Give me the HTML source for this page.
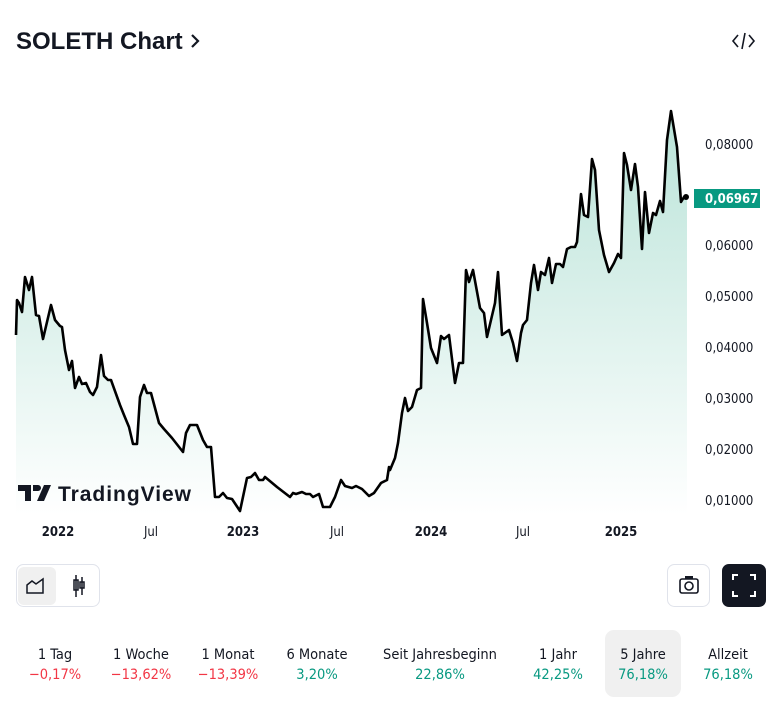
<!DOCTYPE html>
<html><head><meta charset="utf-8"><style>
body{margin:0;background:#fff;width:780px;height:706px;overflow:hidden;font-family:"DejaVu Sans Condensed","Liberation Sans",sans-serif;}
</style></head><body>
<svg width="780" height="706" style="position:absolute;left:0;top:0">
<defs>
<linearGradient id="gf" gradientUnits="userSpaceOnUse" x1="0" y1="110" x2="0" y2="515"><stop offset="0" stop-color="#b9e3d8"/><stop offset="1" stop-color="#ffffff"/></linearGradient></defs>
<text x="16" y="49" font-family="Liberation Sans, sans-serif" font-size="24" font-weight="bold" fill="#131722">SOLETH Chart</text>
<path d="M192 35 l6 6 -6 6" stroke="#131722" stroke-width="2.2" fill="none"/>
<path d="M738 35 l-5 6 5 6 M749 35 l5 6 -5 6 M745 33 l-3 16" stroke="#131722" stroke-width="1.6" fill="none"/>
<polygon fill="url(#gf)" points="16,515 16,335 17,300 19,303 22,312 25,277 29,290 32,277 36,315 39,316 43,339 51,305 55,320 60,326 62,327 65,350 69,370 72,361 75,388 79,377 82,384 86,383 90,392 93,395 97,387 101,355 104,376 108,380 111,380 120,405 124,415 129,427 133,444 137,444 140,397 144,385 147,393 151,393 159,423 164,429 172,438 183,452 186,433 190,425 197,425 203,440 207,447 211,447 215,497 219,497 223,493 227,498 232,499 240,511 247,478 251,477 255,473 259,480 263,480 265,477 277,487 290,497 293,493 296,494 302,492 306,494 310,494 313,497 319,494 323,507 330,507 335,497 341,480 345,486 352,488 356,486 362,489 369,496 374,493 381,483 387,480 389,467 390,470 395,458 398,443 402,413 405,398 408,411 412,407 417,390 421,388 423,299 427,323 431,348 437,363 441,336 444,339 449,335 455,383 459,363 463,363 466,270 469,282 473,270 480,308 484,313 487,337 491,320 495,303 498,272 502,335 509,330 513,343 517,361 521,333 523,325 527,320 531,283 534,265 538,290 541,272 545,275 549,258 552,283 556,264 560,264 563,267 567,249 571,247 575,247 577,242 581,194 584,215 588,217 592,159 595,170 599,230 604,255 609,272 614,263 618,254 621,258 624,153 627,165 631,190 635,164 638,187 642,249 645,192 649,233 653,213 656,215 660,201 663,212 667,140 671,111 677,147 681,202 684,197 687,197 687,515"/>
<polyline fill="none" stroke="#000" stroke-width="2.6" stroke-linejoin="round" points="16,335 17,300 19,303 22,312 25,277 29,290 32,277 36,315 39,316 43,339 51,305 55,320 60,326 62,327 65,350 69,370 72,361 75,388 79,377 82,384 86,383 90,392 93,395 97,387 101,355 104,376 108,380 111,380 120,405 124,415 129,427 133,444 137,444 140,397 144,385 147,393 151,393 159,423 164,429 172,438 183,452 186,433 190,425 197,425 203,440 207,447 211,447 215,497 219,497 223,493 227,498 232,499 240,511 247,478 251,477 255,473 259,480 263,480 265,477 277,487 290,497 293,493 296,494 302,492 306,494 310,494 313,497 319,494 323,507 330,507 335,497 341,480 345,486 352,488 356,486 362,489 369,496 374,493 381,483 387,480 389,467 390,470 395,458 398,443 402,413 405,398 408,411 412,407 417,390 421,388 423,299 427,323 431,348 437,363 441,336 444,339 449,335 455,383 459,363 463,363 466,270 469,282 473,270 480,308 484,313 487,337 491,320 495,303 498,272 502,335 509,330 513,343 517,361 521,333 523,325 527,320 531,283 534,265 538,290 541,272 545,275 549,258 552,283 556,264 560,264 563,267 567,249 571,247 575,247 577,242 581,194 584,215 588,217 592,159 595,170 599,230 604,255 609,272 614,263 618,254 621,258 624,153 627,165 631,190 635,164 638,187 642,249 645,192 649,233 653,213 656,215 660,201 663,212 667,140 671,111 677,147 681,202 684,197 687,197"/>
<circle cx="686" cy="197" r="3" fill="#000"/>
<path d="M18 485 h13 v16 h-6 v-10 h-7z M33 485 h5 a3 3 0 0 1 0 6 h-5z M44 485 h7 l-7 16 h-7z" fill="#131722"/>
<text x="58" y="501" font-family="Liberation Sans, sans-serif" font-size="21" font-weight="bold" fill="#131722" textLength="133">TradingView</text>
<g font-size="13" fill="#131722">
<text x="705" y="149">0,08000</text><text x="705" y="250">0,06000</text><text x="705" y="301">0,05000</text><text x="705" y="352">0,04000</text><text x="705" y="403">0,03000</text><text x="705" y="454">0,02000</text><text x="705" y="505">0,01000</text>
</g>
<rect x="694" y="189" width="66" height="19" fill="#089981"/>
<text x="705" y="203" font-size="13" font-weight="bold" fill="#fff">0,06967</text>
<g font-size="13" font-weight="bold" fill="#131722" text-anchor="middle">
<text x="58" y="536">2022</text><text x="151" y="536" font-weight="normal">Jul</text><text x="243" y="536">2023</text><text x="337" y="536" font-weight="normal">Jul</text><text x="431" y="536">2024</text><text x="523" y="536" font-weight="normal">Jul</text><text x="621" y="536">2025</text>
</g>
<rect x="16.5" y="564.5" width="83" height="42" rx="7" fill="#fff" stroke="#e0e3eb"/>
<rect x="18" y="567" width="38" height="38" rx="6" fill="#f0f0f0"/>
<path d="M27 593 v-8 l5 -4 4 3 7 -5 v14z" fill="none" stroke="#131722" stroke-width="1.5"/>
<path d="M76 575 v22 M82 577 v18 M74 580 h4 v10 h-4z M80 582 h4 v6 h-4z" fill="none" stroke="#131722" stroke-width="1.5"/>
<rect x="667.5" y="564.5" width="42" height="42" rx="7" fill="#fff" stroke="#e0e3eb"/>
<rect x="680" y="579" width="18" height="14" rx="2" fill="none" stroke="#131722" stroke-width="1.6"/>
<rect x="685" y="576" width="8" height="3" fill="#131722"/>
<circle cx="689" cy="586" r="4" fill="none" stroke="#131722" stroke-width="1.6"/>
<rect x="722" y="564" width="44" height="43" rx="7" fill="#131722"/>
<path d="M733 580 v-5 h5 M750 575 h5 v5 M755 591 v5 h-5 M738 596 h-5 v-5" fill="none" stroke="#fff" stroke-width="2"/>
<rect x="605" y="630" width="76" height="67" rx="9" fill="#f0f0f0"/>
<g font-size="14.5" text-anchor="middle">
<text x="55" y="659" fill="#131722">1 Tag</text><text x="55" y="679" fill="#f23645">−0,17%</text>
<text x="141" y="659" fill="#131722">1 Woche</text><text x="141" y="679" fill="#f23645">−13,62%</text>
<text x="228" y="659" fill="#131722">1 Monat</text><text x="228" y="679" fill="#f23645">−13,39%</text>
<text x="317" y="659" fill="#131722">6 Monate</text><text x="317" y="679" fill="#089981">3,20%</text>
<text x="440" y="659" fill="#131722">Seit Jahresbeginn</text><text x="440" y="679" fill="#089981">22,86%</text>
<text x="558" y="659" fill="#131722">1 Jahr</text><text x="558" y="679" fill="#089981">42,25%</text>
<text x="643" y="659" fill="#131722">5 Jahre</text><text x="643" y="679" fill="#089981">76,18%</text>
<text x="728" y="659" fill="#131722">Allzeit</text><text x="728" y="679" fill="#089981">76,18%</text>
</g>
</svg>
</body></html>
